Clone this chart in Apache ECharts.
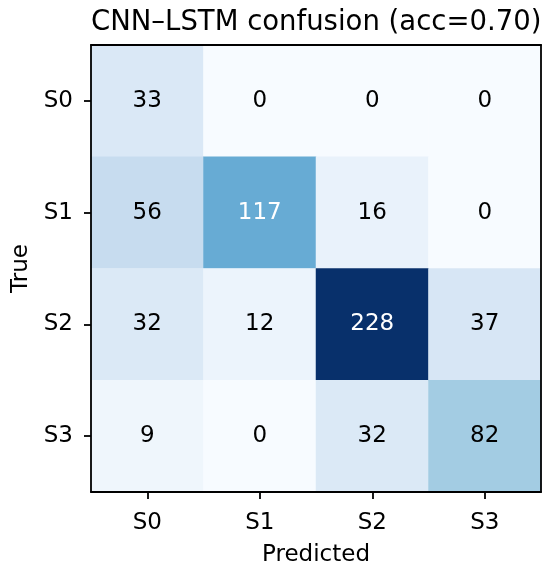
<!DOCTYPE html>
<html>
<head>
<meta charset="UTF-8">
<script src="https://cdn.jsdelivr.net/npm/echarts@6/dist/echarts.min.js"></script>
<style>
  html, body { margin: 0; padding: 0; background: #fff; }
  #chart { width: 550px; height: 572px; }
</style>
</head>
<body>
<div id="chart"></div>
<script>
var predLabels = ['S0', 'S1', 'S2', 'S3'];
var trueLabels = ['S0', 'S1', 'S2', 'S3'];
// rows = true class, cols = predicted class
var rowS0 = [33, 0, 0, 0];
var rowS1 = [56, 117, 16, 0];
var rowS2 = [32, 12, 228, 37];
var rowS3 = [9, 0, 32, 82];
var matrix = [rowS0, rowS1, rowS2, rowS3];

var blues = ['#f7fbff', '#deebf7', '#c6dbef', '#9ecae1', '#6baed6',
             '#4292c6', '#2171b5', '#08519c', '#08306b'];

var vmax = Math.max.apply(null, matrix.map(function (r) { return Math.max.apply(null, r); }));
var thresh = vmax / 2;

var cells = [];
matrix.forEach(function (row, i) {
  row.forEach(function (v, j) {
    cells.push({
      value: [j, i, v],
      label: { color: v > thresh ? '#ffffff' : '#000000' }
    });
  });
});

var font = 'DejaVu Sans';
var fs = 23;
var chart = echarts.init(document.getElementById('chart'));

var axisLine = { show: true, lineStyle: { color: '#000', width: 1.8 } };
var tick = { show: true, alignWithLabel: true, length: 7, lineStyle: { color: '#000', width: 1.8 } };

chart.setOption({
  animation: false,
  backgroundColor: '#fff',
  title: {
    text: 'CNN\u2013LSTM confusion (acc=0.70)',
    left: 91,
    top: 9,
    padding: 0,
    textStyle: { fontFamily: font, fontSize: 27.5, fontWeight: 'normal', color: '#000' }
  },
  grid: { left: 91, right: 9, top: 45, bottom: 78 },
  visualMap: {
    show: false,
    min: 0,
    max: vmax,
    dimension: 2,
    inRange: { color: blues }
  },
  xAxis: [{
    type: 'category',
    data: predLabels,
    position: 'bottom',
    z: 10,
    name: 'Predicted',
    nameLocation: 'middle',
    nameGap: 52,
    nameTextStyle: { fontFamily: font, fontSize: fs, color: '#000' },
    axisLine: axisLine,
    axisTick: tick,
    axisLabel: { fontFamily: font, fontSize: fs, color: '#000', margin: 20 },
    splitLine: { show: false },
    splitArea: { show: false }
  }, {
    type: 'category',
    data: predLabels,
    position: 'top',
    z: 10,
    axisLine: axisLine,
    axisTick: { show: false },
    axisLabel: { show: false },
    splitLine: { show: false }
  }],
  yAxis: [{
    type: 'category',
    data: trueLabels,
    inverse: true,
    position: 'left',
    z: 10,
    name: 'True',
    nameLocation: 'middle',
    nameGap: 58,
    nameRotate: 90,
    nameTextStyle: { fontFamily: font, fontSize: fs, color: '#000' },
    axisLine: axisLine,
    axisTick: tick,
    axisLabel: { fontFamily: font, fontSize: fs, color: '#000', margin: 18 },
    splitLine: { show: false },
    splitArea: { show: false }
  }, {
    type: 'category',
    data: trueLabels,
    inverse: true,
    position: 'right',
    z: 10,
    axisLine: axisLine,
    axisTick: { show: false },
    axisLabel: { show: false },
    splitLine: { show: false }
  }],
  series: [{
    type: 'heatmap',
    data: cells,
    label: { show: true, fontFamily: font, fontSize: fs, formatter: function (p) { return p.value[2]; } },
    itemStyle: { borderWidth: 0 },
    emphasis: { disabled: true }
  }]
});
</script>
</body>
</html>
